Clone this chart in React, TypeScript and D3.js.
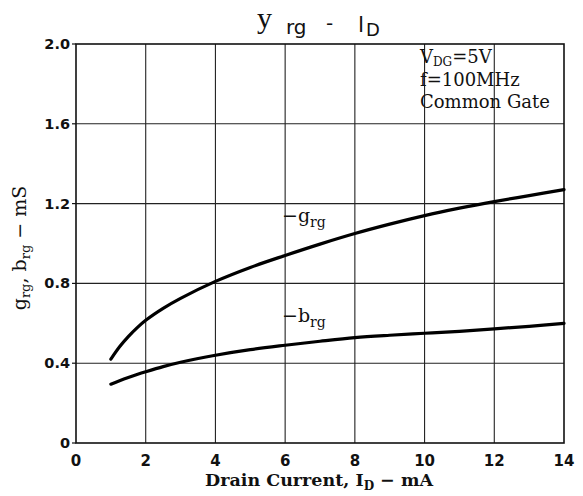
import React from "react";
import * as d3 from "d3";

const currents = [1, 1.25, 1.5, 1.75, 2, 2.5, 3, 4, 5, 6, 7, 8, 9, 10, 11, 12, 13, 14];
const grg = [0.42, 0.482, 0.533, 0.577, 0.615, 0.675, 0.725, 0.81, 0.88, 0.94, 0.997, 1.05, 1.097, 1.14, 1.177, 1.21, 1.24, 1.27];
const brg = [0.295, 0.312, 0.328, 0.343, 0.357, 0.383, 0.405, 0.44, 0.468, 0.49, 0.51, 0.528, 0.54, 0.55, 0.56, 0.572, 0.585, 0.6];
const xTicks = [0, 2, 4, 6, 8, 10, 12, 14];
const yTicks = [0, 0.4, 0.8, 1.2, 1.6, 2.0];
const yTickLabels = ["0", "0.4", "0.8", "1.2", "1.6", "2.0"];

const W = 583, H = 496;
const L = 76, R = 564, T = 44, B = 443;

export default function App() {
  const x = d3.scaleLinear().domain([0, 14]).range([L, R]);
  const y = d3.scaleLinear().domain([0, 2]).range([B, T]);
  const line = d3
    .line<number>()
    .x((_, i) => x(currents[i]))
    .y((d) => y(d))
    .curve(d3.curveCatmullRom.alpha(0.5));
  const serif = "'DejaVu Serif', serif";
  const sans = "'DejaVu Sans', sans-serif";
  return (
    <svg width={W} height={H} style={{ position: "absolute", left: 0, top: 0, background: "#fff" }}>
      {/* title */}
      <text x={257} y={28} fontFamily={"'Liberation Serif', serif"} fontSize={30} fill="#111">
        y
      </text>
      <text x={286} y={34} fontFamily={sans} fontSize={20} fill="#111">
        rg
      </text>
      <text x={326} y={30} fontFamily={sans} fontSize={20} fill="#111">
        -
      </text>
      <text x={358} y={32} fontFamily={sans} fontSize={22} fill="#111">
        l
      </text>
      <text x={366} y={36} fontFamily={sans} fontSize={18} fill="#111">
        D
      </text>
      {/* grid */}
      {xTicks.slice(1, -1).map((t) => (
        <line key={"vx" + t} x1={x(t)} x2={x(t)} y1={T} y2={B} stroke="#222" strokeWidth={1.1} />
      ))}
      {yTicks.slice(1, -1).map((t) => (
        <line key={"hy" + t} x1={L} x2={R} y1={y(t)} y2={y(t)} stroke="#222" strokeWidth={1.1} />
      ))}
      {/* ticks */}
      {yTicks.map((t) => (
        <line key={"ty" + t} x1={L - 4} x2={L} y1={y(t)} y2={y(t)} stroke="#111" strokeWidth={1.2} />
      ))}
      {/* frame */}
      <rect x={L} y={T} width={R - L} height={B - T} fill="none" stroke="#111" strokeWidth={1.6} />
      {/* curves */}
      <path d={line(grg) || ""} fill="none" stroke="#000" strokeWidth={3.2} strokeLinecap="round" />
      <path d={line(brg) || ""} fill="none" stroke="#000" strokeWidth={3.2} strokeLinecap="round" />
      {/* curve labels */}
      <text x={282} y={222} fontFamily={serif} fontSize={19} fill="#111">
        −g
        <tspan fontSize={14} dy={5}>rg</tspan>
      </text>
      <text x={282} y={322} fontFamily={serif} fontSize={19} fill="#111">
        −b
        <tspan fontSize={14} dy={5}>rg</tspan>
      </text>
      {/* legend */}
      <text x={420} y={63} fontFamily={serif} fontSize={18} fill="#111">
        V<tspan fontSize={12} dy={3}>DG</tspan>
        <tspan dy={-3}>=5V</tspan>
      </text>
      <text x={420} y={86} fontFamily={serif} fontSize={18} fill="#111">
        f=100MHz
      </text>
      <text x={420} y={108} fontFamily={serif} fontSize={18} fill="#111">
        Common Gate
      </text>
      {/* tick labels */}
      {yTicks.map((t, i) => (
        <text key={"yl" + t} x={L - 6} y={y(t) + 5} textAnchor="end" fontFamily={sans} fontWeight="bold" fontSize={14.5} fill="#111">
          {yTickLabels[i]}
        </text>
      ))}
      {xTicks.map((t) => (
        <text key={"xl" + t} x={x(t)} y={466} textAnchor="middle" fontFamily={sans} fontWeight="bold" fontSize={15} fill="#111">
          {t}
        </text>
      ))}
      {/* axis titles */}
      <text x={319} y={486} textAnchor="middle" fontFamily={serif} fontWeight="bold" fontSize={17.5} fill="#111">
        Drain Current, I<tspan fontSize={12} dy={4}>D</tspan>
        <tspan dy={-4}> − mA</tspan>
      </text>
      <g transform="translate(26,248) rotate(-90)">
        <text x={0} y={0} textAnchor="middle" fontFamily={serif} fontSize={19} fill="#111">
          g<tspan fontSize={13} dy={4}>rg</tspan>
          <tspan dy={-4}>, b</tspan>
          <tspan fontSize={13} dy={4}>rg</tspan>
          <tspan dy={-4}>  −  mS</tspan>
        </text>
      </g>
    </svg>
  );
}
